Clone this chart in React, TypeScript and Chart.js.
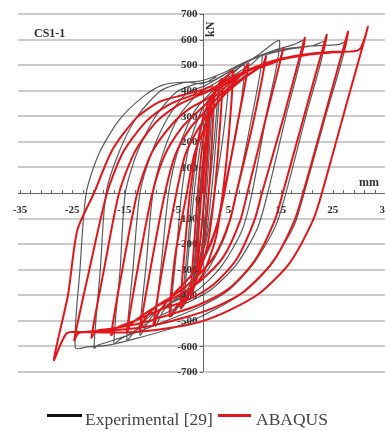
import React, { useEffect, useRef } from "react";
import { Chart, registerables } from "chart.js";

Chart.register(...registerables);

type P = [number, number];

const X_MIN = -35;
const X_MAX = 35;
const Y_MIN = -700;
const Y_MAX = 700;
const yTickValues = [700, 600, 500, 400, 300, 200, 100, 0, -100, -200, -300, -400, -500, -600, -700];
const xTickLabels = [-35, -25, -15, -5, 5, 15, 25, 35];
const chartTitle = "CS1-1";
const yUnit = "kN";
const xUnit = "mm";
const legendLabels = ["Experimental [29]", "ABAQUS"];

// ABAQUS (red) hysteresis path, cycle by cycle: rise to +peak, then fall to -peak
const abaqus01: P[] = [[0, 0], [0.6, 180], [1.2, 280], [0.9, 150], [0.4, 0], [-0.4, -180], [-1.1, -290]];
const abaqus02: P[] = [[-0.7, -130], [-0.2, 0], [0.6, 200], [1.4, 320], [2.2, 390], [1.8, 200], [1.2, 0], [0.3, -190], [-1, -320], [-2.2, -400]];
const abaqus03: P[] = [[-1.6, -200], [-0.9, 0], [0, 190], [1.2, 320], [2.5, 400], [3.8, 445], [3.2, 220], [2.3, 0], [1, -200], [-1, -330], [-3, -410], [-4.2, -450]];
const abaqus04: P[] = [[-3.4, -220], [-2.4, 0], [-1, 190], [0.5, 320], [2.5, 405], [4.5, 450], [5.8, 478], [5.1, 240], [3.9, 0], [2.5, -180], [0, -320], [-3, -400], [-5, -445], [-6.3, -482]];
const abaqus05: P[] = [[-5.2, -240], [-3.0, 0], [-1.6, 150], [0.3, 250], [2.5, 340], [5, 410], [7.5, 465], [8.8, 505], [6.5, 250], [4.2, 0], [3.0, -110], [0.8, -230], [-2.5, -330], [-6, -405], [-8.5, -470], [-9.4, -515]];
const abaqus06: P[] = [[-7.3, -250], [-5, 0], [-3.3, 150], [-1, 245], [1.5, 320], [4.5, 390], [8, 450], [11.5, 500], [12.2, 535], [9.6, 265], [6.5, 0], [5.2, -110], [2.5, -240], [-1.5, -335], [-5.5, -400], [-9, -445], [-11.3, -500], [-12, -535]];
const abaqus07: P[] = [[-9.7, -265], [-7.2, 0], [-5.2, 150], [-2.5, 250], [0.5, 320], [3.5, 385], [7, 440], [11, 490], [14.7, 520], [15.5, 565], [12, 280], [8.6, 0], [7.2, -110], [4, -250], [-0.5, -345], [-5, -405], [-9, -445], [-13, -500], [-14, -520], [-14.5, -545]];
const abaqus08: P[] = [[-12.2, -270], [-9.6, 0], [-7.2, 150], [-4, 255], [-0.8, 320], [2.5, 380], [6, 440], [10, 490], [15, 525], [18.8, 540], [19.6, 606], [15.6, 300], [11.4, 0], [9.9, -110], [6.5, -260], [2, -360], [-3, -420], [-8, -455], [-13, -500], [-16.5, -528], [-17.5, -555]];
const abaqus09: P[] = [[-15.2, -280], [-12.5, 0], [-9.8, 155], [-6, 265], [-2.5, 330], [1, 370], [4, 420], [8, 470], [13, 510], [18, 535], [22, 545], [23.1, 552], [23.8, 618], [19.6, 310], [15.4, 0], [13.8, -110], [10, -265], [5, -375], [-1, -440], [-7, -480], [-12, -510], [-18, -532], [-20.5, -540], [-21.3, -565]];
const abaqus10: P[] = [[-18.8, -290], [-16, 0], [-13, 160], [-9, 275], [-5, 340], [-1.5, 375], [2, 405], [6, 455], [10, 490], [15, 522], [20, 540], [25, 550], [27, 556], [27.9, 630], [23.6, 315], [19.3, 0], [17.6, -110], [13.5, -270], [8, -385], [2, -450], [-4, -490], [-10, -520], [-16, -535], [-22, -542], [-23.8, -548], [-24.6, -575]];
const abaqus11: P[] = [[-21.7, -300], [-18.3, 0], [-15.2, 160], [-10.8, 280], [-6.5, 345], [-2.5, 378], [1, 400], [5, 445], [10, 492], [15, 525], [20, 543], [25, 552], [30, 560], [31.7, 649], [27.3, 325], [22.9, 0], [21.2, -106], [16.7, -274], [11, -391], [5.2, -458], [-0.6, -505], [-7, -530], [-14, -545], [-22, -545], [-26, -548], [-28.5, -653]];
const abaqus12: P[] = [[-25.8, -400], [-24, -145], [-20.8, 0], [-17.3, 168], [-12.7, 293], [-8.3, 356], [-3.8, 383], [-0.2, 403], [2, 420]];

// Experimental (grey) hysteresis path
const exp01: P[] = [[0, 0], [0.8, 200], [1.5, 330], [1.0, 150], [0.5, 0], [-0.5, -200], [-1.5, -330]];
const exp01b: P[] = [[-1.0, -160], [-0.4, 0], [0.4, 150], [1.0, 260], [1.8, 350], [1.3, 160], [0.8, 0], [0.2, -150], [-0.6, -270], [-1.8, -360]];
const exp02: P[] = [[-1.1, -150], [-0.6, 0], [0.5, 200], [1.8, 340], [3, 420], [2.2, 200], [1.2, 0], [0, -200], [-1.8, -340], [-3.5, -430]];
const exp02b: P[] = [[-2.6, -220], [-1.6, 0], [-0.3, 200], [1.2, 330], [2.4, 400], [3.3, 430], [2.6, 210], [1.7, 0], [0.6, -180], [-1.2, -330], [-3.0, -420], [-3.9, -445]];
const exp03: P[] = [[-2.8, -200], [-2, 0], [-0.8, 200], [1, 330], [3, 410], [5, 460], [4, 230], [2.3, 0], [0.8, -180], [-1.5, -320], [-4, -420], [-6, -480]];
const exp04: P[] = [[-5, -230], [-4, 0], [-2.5, 190], [0, 330], [3, 410], [5.5, 460], [8, 500], [6.6, 250], [4, 0], [2.2, -170], [-1, -310], [-4.5, -400], [-7.5, -460], [-9, -520]];
const exp05: P[] = [[-7.8, -260], [-6.5, 0], [-4.5, 180], [-1.5, 320], [2, 400], [6, 460], [9.5, 505], [11.5, 540], [9.2, 270], [6.5, 0], [4.5, -160], [1, -300], [-3, -390], [-7, -440], [-10, -490], [-12, -555]];
const exp06: P[] = [[-10.8, -280], [-9.5, 0], [-7.5, 160], [-4.5, 300], [-1, 385], [2.5, 430], [7, 490], [11, 545], [14.8, 594], [12.2, 300], [9.5, 0], [7.5, -150], [3.5, -290], [-1, -380], [-6, -430], [-10, -480], [-13, -540], [-14.5, -575]];
const exp07: P[] = [[-13.3, -290], [-12, 0], [-9.7, 160], [-6.5, 300], [-3, 390], [0.5, 420], [4, 460], [9, 520], [14, 560], [17.5, 580], [19.5, 595], [16, 300], [12.5, 0], [10.5, -140], [6.5, -280], [1.5, -380], [-4, -440], [-9, -490], [-13, -540], [-16, -575], [-17, -590]];
const exp08: P[] = [[-15.8, -300], [-14.8, 0], [-12.5, 160], [-9, 300], [-5, 395], [-1.5, 425], [2, 440], [6, 485], [11, 535], [16, 560], [21, 575], [23.5, 590], [19.8, 300], [16, 0], [14, -130], [10, -270], [5, -380], [-1, -450], [-7, -500], [-12, -540], [-17, -575], [-20, -595], [-20.8, -606]];
const exp09: P[] = [[-19.6, -300], [-18.5, 0], [-16, 160], [-12.5, 300], [-8, 400], [-4, 430], [0, 440], [4, 470], [9, 520], [15, 560], [21, 575], [26, 580], [27.6, 590], [23.6, 300], [19.5, 0], [17.5, -130], [13, -280], [7, -400], [0, -480], [-6, -530], [-12, -565], [-18, -595], [-22, -602], [-24.4, -605]];
const exp10: P[] = [[-23.5, -300], [-22.3, 0], [-19.8, 156], [-16, 285], [-11.5, 375], [-7.7, 422], [-3.1, 434], [0, 428], [2.7, 455]];

const abaqusPath: P[][] = [abaqus01, abaqus02, abaqus03, abaqus04, abaqus05, abaqus06, abaqus07, abaqus08, abaqus09, abaqus10, abaqus11, abaqus12];
const expPath: P[][] = [exp01, exp01b, exp02, exp02b, exp03, exp04, exp05, exp06, exp07, exp08, exp09, exp10];

const toPoints = (parts: P[][]) => parts.flat().map(([x, y]) => ({ x, y }));

const SERIF = '"Liberation Serif", "Times New Roman", serif';
const RED = "#e3161b";
const GREY = "rgba(50,50,50,0.8)";

const decorPlugin = {
  id: "decor",
  beforeDatasetsDraw(chart: any) {
    const { ctx, scales } = chart;
    const xs = scales.x;
    const ys = scales.y;
    const x0 = xs.getPixelForValue(0);
    const y0 = ys.getPixelForValue(0);
    const W = chart.width;
    ctx.save();
    // horizontal grid lines
    ctx.strokeStyle = "#cbcbcb";
    ctx.lineWidth = 2;
    for (const v of yTickValues) {
      if (v === 0) continue;
      const py = Math.round(ys.getPixelForValue(v));
      ctx.beginPath();
      ctx.moveTo(xs.getPixelForValue(X_MIN) - 2, py);
      ctx.lineTo(W, py);
      ctx.stroke();
    }
    // x axis
    ctx.strokeStyle = "#666";
    ctx.lineWidth = 1;
    ctx.beginPath();
    ctx.moveTo(xs.getPixelForValue(X_MIN) - 2, Math.round(y0) + 0.5);
    ctx.lineTo(W, Math.round(y0) + 0.5);
    ctx.stroke();
    for (let v = X_MIN; v <= X_MAX; v += 2) {
      const px = Math.round(xs.getPixelForValue(v)) + 0.5;
      ctx.beginPath();
      ctx.moveTo(px, Math.round(y0));
      ctx.lineTo(px, Math.round(y0) - 3);
      ctx.stroke();
    }
    // y axis
    ctx.beginPath();
    ctx.moveTo(Math.round(x0) + 0.5, ys.getPixelForValue(Y_MAX));
    ctx.lineTo(Math.round(x0) + 0.5, ys.getPixelForValue(Y_MIN));
    ctx.stroke();
    for (const v of yTickValues) {
      const py = Math.round(ys.getPixelForValue(v)) + 0.5;
      ctx.beginPath();
      ctx.moveTo(Math.round(x0) - 3, py);
      ctx.lineTo(Math.round(x0), py);
      ctx.stroke();
    }
    // tick labels
    ctx.fillStyle = "#333";
    ctx.font = `bold 11px ${SERIF}`;
    ctx.textAlign = "right";
    ctx.textBaseline = "middle";
    for (const v of yTickValues) {
      if (v === 0) continue;
      ctx.fillText(String(v), x0 - 5, ys.getPixelForValue(v) + 0.5);
    }
    ctx.fillText("0", x0 - 2, y0 + 7);
    ctx.textAlign = "center";
    for (const v of xTickLabels) {
      ctx.fillText(String(v), xs.getPixelForValue(v), y0 + 17);
    }
    // units and title
    ctx.font = `bold 12px ${SERIF}`;
    ctx.fillText(xUnit, W - 16, y0 - 10);
    ctx.save();
    ctx.translate(x0 + 8, ys.getPixelForValue(640));
    ctx.rotate(-Math.PI / 2);
    ctx.fillText(yUnit, 0, 0);
    ctx.restore();
    ctx.textAlign = "left";
    ctx.fillText(chartTitle, 34, 34);
    ctx.restore();
  },
  afterDraw(chart: any) {
    const { ctx } = chart;
    ctx.save();
    ctx.lineWidth = 3;
    ctx.strokeStyle = "#111";
    ctx.beginPath();
    ctx.moveTo(47, 415.5);
    ctx.lineTo(82, 415.5);
    ctx.stroke();
    ctx.strokeStyle = RED;
    ctx.beginPath();
    ctx.moveTo(218, 415.5);
    ctx.lineTo(251, 415.5);
    ctx.stroke();
    ctx.fillStyle = "#444";
    ctx.font = `17.5px ${SERIF}`;
    ctx.textAlign = "left";
    ctx.textBaseline = "alphabetic";
    ctx.fillText(legendLabels[0], 85, 425);
    ctx.fillText(legendLabels[1], 256, 425);
    ctx.restore();
  },
};

export default function App() {
  const canvasRef = useRef<HTMLCanvasElement | null>(null);
  useEffect(() => {
    if (!canvasRef.current) return;
    const chart = new Chart(canvasRef.current, {
      type: "scatter",
      data: {
        datasets: [
          {
            label: legendLabels[1],
            data: toPoints(abaqusPath),
            showLine: true,
            borderColor: RED,
            backgroundColor: RED,
            borderWidth: 2,
            pointRadius: 0,
            tension: 0.25,
            order: 0,
          },
          {
            label: legendLabels[0],
            data: toPoints(expPath),
            showLine: true,
            borderColor: GREY,
            backgroundColor: GREY,
            borderWidth: 1.2,
            pointRadius: 0,
            tension: 0.25,
            order: 1,
          },
        ],
      },
      options: {
        animation: false,
        responsive: false,
        devicePixelRatio: 1,
        events: [],
        layout: { padding: { left: 20, right: 0, top: 14, bottom: 59 } },
        scales: {
          x: { type: "linear", min: X_MIN, max: X_MAX, display: false },
          y: { type: "linear", min: Y_MIN, max: Y_MAX, display: false },
        },
        plugins: { legend: { display: false }, tooltip: { enabled: false } },
      },
      plugins: [decorPlugin],
    } as any);
    return () => chart.destroy();
  }, []);
  return (
    <div style={{ position: "absolute", left: 0, top: 0, width: 385, height: 431, background: "#fff" }}>
      <canvas ref={canvasRef} width={385} height={431} style={{ width: 385, height: 431, display: "block" }} />
    </div>
  );
}
